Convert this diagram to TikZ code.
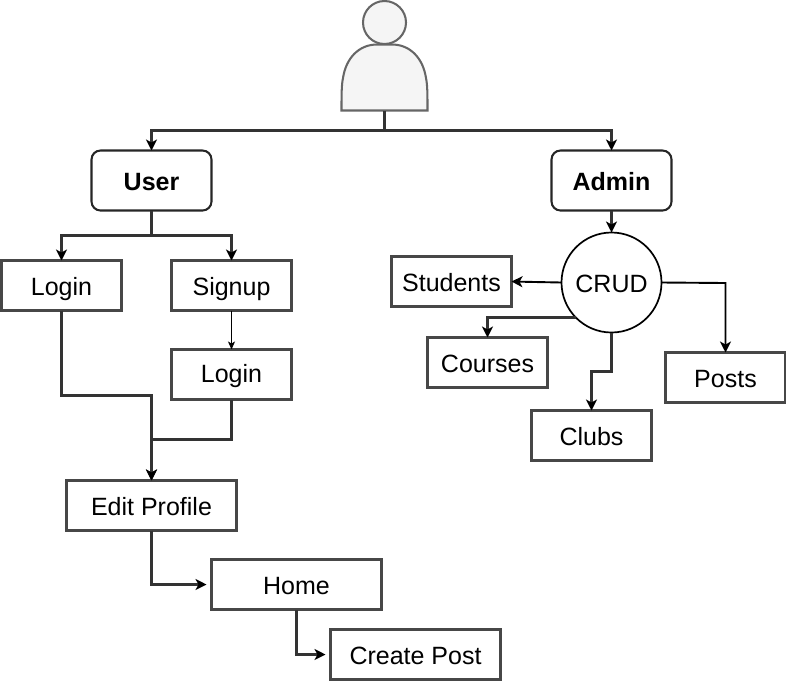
\documentclass[tikz,border=0pt]{standalone}
\usepackage{fontspec}
\setmainfont{Liberation Sans}
\usetikzlibrary{arrows.meta}
\tikzset{
  box/.style={draw=black!72,line width=2.05pt,fill=white,inner sep=0pt,outer sep=0pt,text height=19pt,text depth=0pt,font=\fontsize{25}{29}\selectfont,text=black},
  plainbox/.style={box,rectangle,minimum height=50pt},
  wide/.style={plainbox,minimum width=120pt},
  wider/.style={plainbox,minimum width=170pt},
  role/.style={box,rectangle,rounded corners=9pt,draw=black!85,minimum width=120pt,minimum height=60pt,font=\fontsize{25}{29}\selectfont\bfseries},
  crud/.style={box,circle,draw=black,line width=1.7pt,minimum size=100pt},
  conn/.style={draw=black!80,line width=2.05pt,-{Stealth[length=11pt,width=11pt,inset=3pt,color=black]}},
  slant conn/.style={draw=black,line width=1.9pt,-{Stealth[length=11pt,width=11pt,inset=3pt,color=black]}},
  thin conn/.style={draw=black,line width=1pt,-{Stealth[length=8pt,width=7pt,inset=2pt]}},
  person/.style={draw=black!60,fill=black!4,line width=2.05pt}
}
\begin{document}
\begin{tikzpicture}[x=1pt,y=-1pt]
\useasboundingbox (0,0) rectangle (786,681);
% person
\draw[person] (384.5,22.5) circle (21.5pt);
\draw[person] (341.5,110.5) -- (427.5,110.5)
  .. controls (427.5,95) and (427.5,85) .. (426,78)
  .. controls (423,58) and (410,44.5) .. (392,44.5)
  -- (377,44.5)
  .. controls (359,44.5) and (346,58) .. (343,78)
  .. controls (341.5,85) and (341.5,95) .. (341.5,110.5) -- cycle;
\coordinate (pb) at (384.5,111);
\coordinate (split) at (384.5,130.5);
% nodes
\node[role] (user) at (151.5,180.5) {User};
\node[role] (admin) at (611.5,180.5) {Admin};
\node[wide] (login1) at (61.5,285.5) {Login};
\node[wide] (signup) at (231.5,285.5) {Signup};
\node[wide,text height=16pt] (login2) at (231.5,374.5) {Login};
\node[wider] (edit) at (151.5,505.5) {Edit Profile};
\node[wider] (home) at (296.5,584.5) {Home};
\node[wider] (create) at (415.5,654.5) {Create Post};
\node[crud] (crudn) at (611.5,282.5) {CRUD};
\node[wide] (students) at (451.5,281.5) {Students};
\node[wide] (courses) at (487.5,362.5) {Courses};
\node[wide] (clubs) at (591.5,435.5) {Clubs};
\node[wide] (posts) at (725.5,377.5) {Posts};
% connectors
\draw[conn] (pb) -- (split) -| (user.north);
\draw[conn] (pb) -- (split) -| (admin.north);
\draw[conn] (user.south) |- (151.5,235.5) -| (login1.north);
\draw[conn] (user.south) |- (151.5,235.5) -| (signup.north);
\draw[conn] (admin.south) -- (crudn.north);
\draw[thin conn] (signup.south) -- (login2.north);
\draw[conn] (login1.south) |- (151.5,395.5) -- (edit.north);
\draw[conn] (login2.south) |- (151.5,439.5) -- (edit.north);
\draw[conn,shorten >=5pt] (edit.south) |- (home.west);
\draw[conn,shorten >=5pt] (home.south) |- (create.west);
\draw[slant conn] (crudn.west) -- (535,282) -- (students.east);
\coordinate (cc) at (576,317.5);
\draw[conn] (cc) -- (487.5,317.5) -- (courses.north);
\draw[conn] (crudn.south) -- (611.5,371.5) -| (clubs.north);
\draw[slant conn] (crudn.east) -- (725.5,283) -- (posts.north);
\end{tikzpicture}
\end{document}
